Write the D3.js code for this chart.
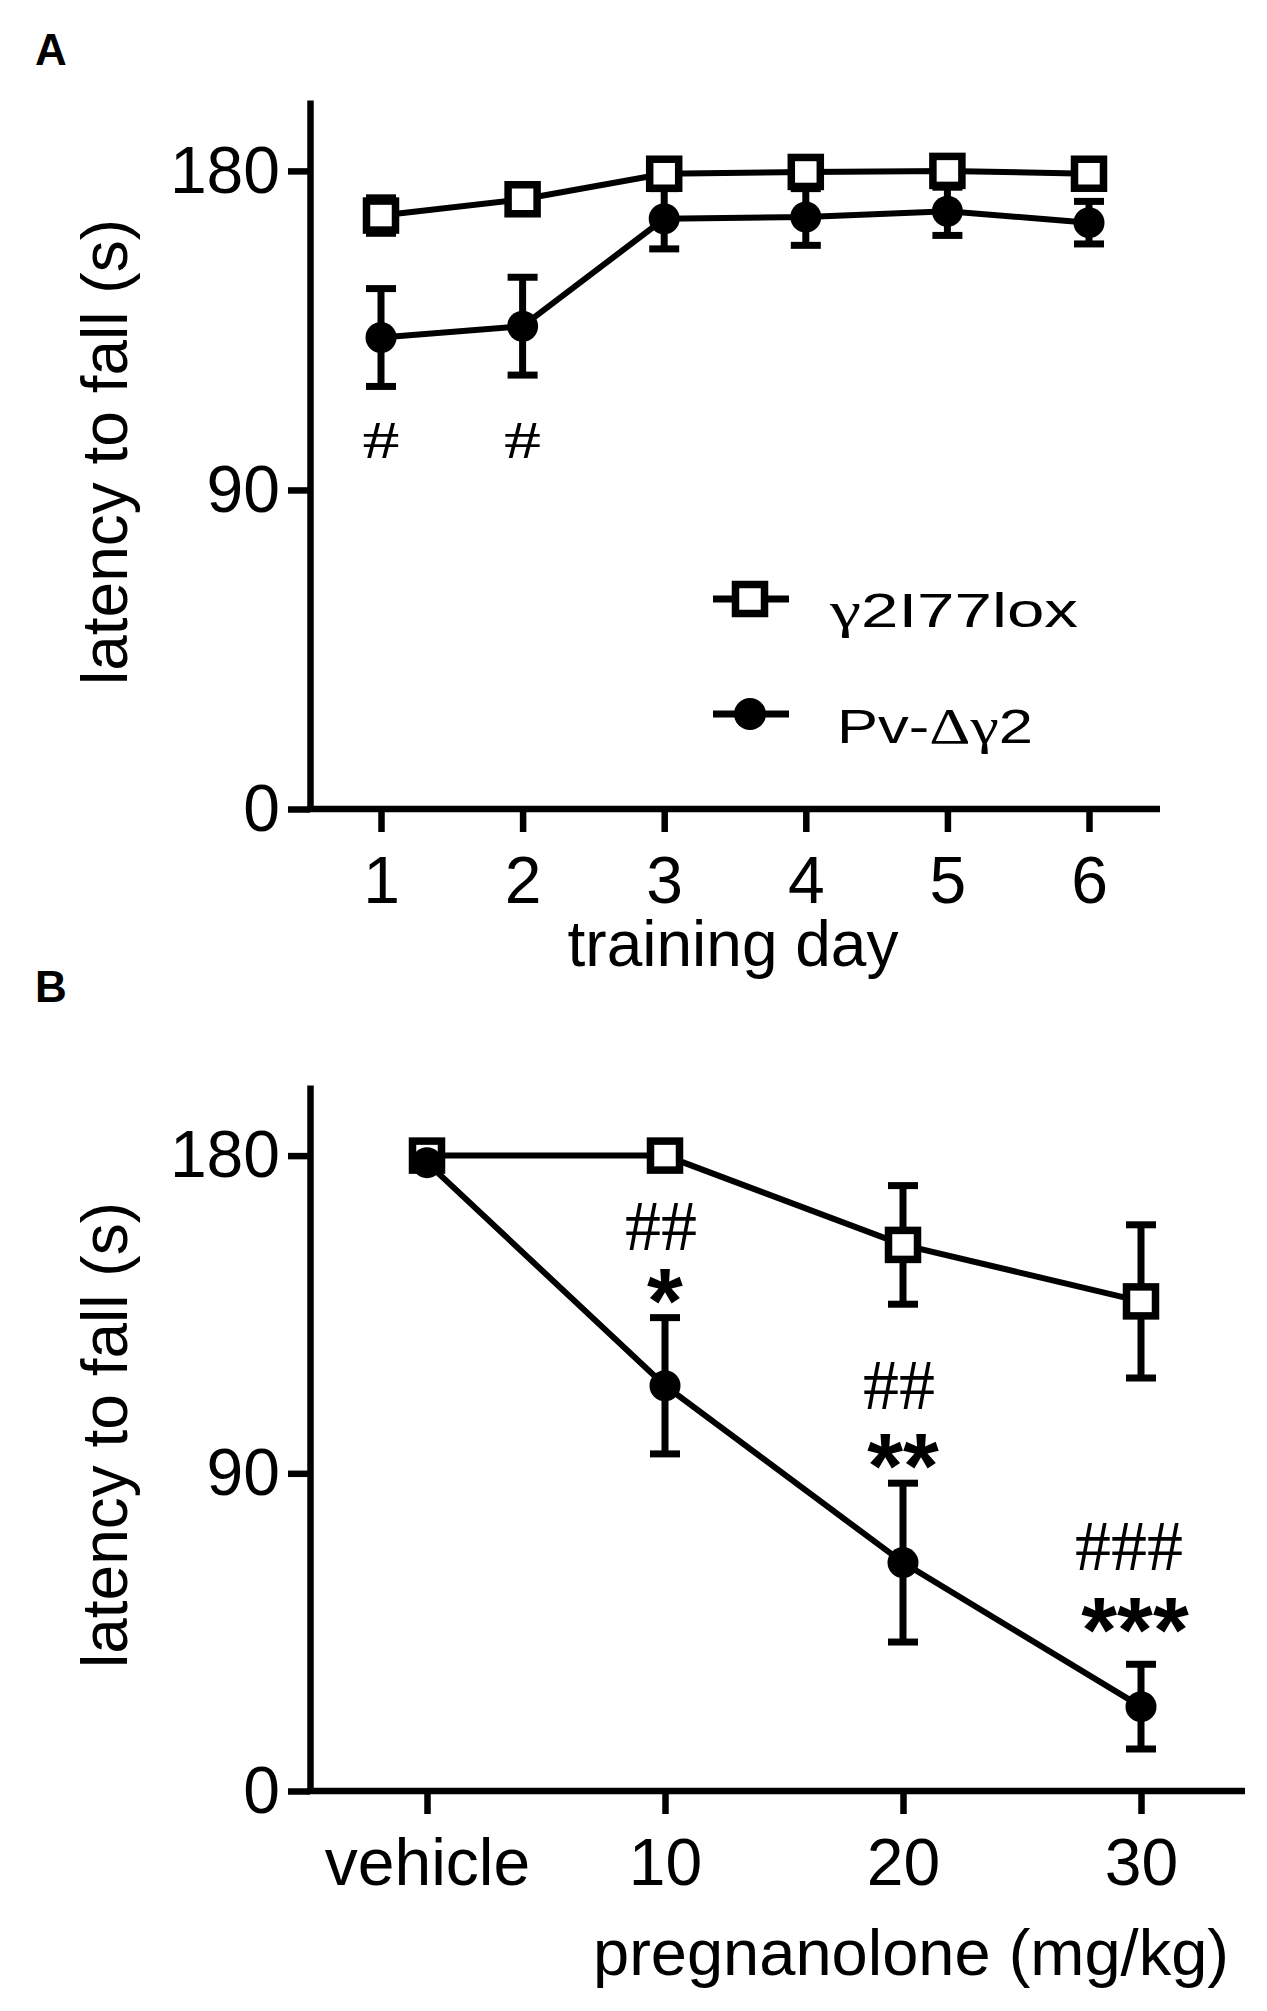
<!DOCTYPE html>
<html>
<head>
<meta charset="utf-8">
<script src="https://cdn.jsdelivr.net/npm/d3@7"></script>
<style>
  body { margin: 0; background: #fff; }
  text { font-family: "Liberation Sans", Arial, sans-serif; fill: #000; }
  .tick line, .domain { stroke: #000; stroke-width: 6.5; }
  .tick text { font-size: 66px; }
</style>
</head>
<body>
<script>
// panel A: rotarod training
const days = [1, 2, 3, 4, 5, 6];
const loxA = [167.4, 172, 179.2, 179.7, 180, 179.2];
const loxA_se = [5, 2, 1.5, 3, 3, 1.5];
const pvA = [133, 136.2, 166.5, 167, 168.6, 165.4];
const pvA_se = [13.8, 13.8, 8.5, 8, 6.8, 6];
const sigA = ["#", "#", "", "", "", ""];

// panel B: pregnanolone dose
const doses = ["vehicle", "10", "20", "30"];
const loxB = [180, 180, 154.7, 138.7];
const loxB_se = [0, 0, 16.8, 21.7];
const pvB = [178, 114.8, 64.7, 23.9];
const pvB_se = [0, 19.3, 22.5, 12];
const sigB_hash = ["", "##", "##", "###"];
const sigB_star = ["", "*", "**", "***"];

const yTicks = [0, 90, 180];
const legendNames = ["γ2I77lox", "Pv-Δγ2"];

const SERIF = "'Liberation Serif', 'Times New Roman', serif";

const svg = d3.select("body").append("svg")
    .attr("width", 1267)
    .attr("height", 2011);

function drawPanel(cfg) {
    const {x, y, xs, g} = cfg;

    // axes
    g.append("g")
        .attr("transform", "translate(310,0)")
        .call(d3.axisLeft(y).tickValues(yTicks).tickSize(22).tickSizeOuter(0).tickPadding(8));

    const xa = g.append("g")
        .attr("transform", `translate(0,${y(0)})`)
        .call(cfg.xAxis.tickSize(23).tickSizeOuter(0).tickPadding(24));
    xa.select(".domain").remove();
    xa.append("line")
        .attr("x1", 307).attr("x2", cfg.xEnd)
        .attr("stroke", "#000").attr("stroke-width", 6.5);

    // lines
    const line = d3.line().x((d, i) => x(xs[i])).y(d => y(d));
    [cfg.lox, cfg.pv].forEach(s => {
        g.append("path")
            .datum(s)
            .attr("d", line)
            .attr("fill", "none")
            .attr("stroke", "#000")
            .attr("stroke-width", 6);
    });

    // error bars
    const bars = [];
    cfg.lox.forEach((m, i) => bars.push([xs[i], m, cfg.loxSe[i]]));
    cfg.pv.forEach((m, i) => bars.push([xs[i], m, cfg.pvSe[i]]));
    const eb = g.append("g").attr("stroke", "#000").attr("stroke-width", 7);
    bars.filter(b => b[2] > 0).forEach(b => {
        const cx = x(b[0]);
        eb.append("line").attr("x1", cx).attr("x2", cx)
            .attr("y1", y(b[1] - b[2])).attr("y2", y(b[1] + b[2]));
        [b[1] - b[2], b[1] + b[2]].forEach(v => {
            eb.append("line").attr("x1", cx - 15).attr("x2", cx + 15)
                .attr("y1", y(v)).attr("y2", y(v));
        });
    });

    // markers
    g.selectAll(null)
        .data(cfg.lox)
        .enter()
        .append("rect")
        .attr("x", (d, i) => x(xs[i]) - 14.5)
        .attr("y", d => y(d) - 14.5)
        .attr("width", 29)
        .attr("height", 29)
        .attr("fill", "#fff")
        .attr("stroke", "#000")
        .attr("stroke-width", 7.5);

    g.selectAll(null)
        .data(cfg.pv)
        .enter()
        .append("circle")
        .attr("cx", (d, i) => x(xs[i]))
        .attr("cy", d => y(d))
        .attr("r", 15.5)
        .attr("fill", "#000");
}

function yLabel(g, cy) {
    g.append("text")
        .attr("transform", `translate(127,${cy}) rotate(-90)`)
        .attr("text-anchor", "middle")
        .style("font-size", "64px")
        .text("latency to fall (s)");
}

// text squeezed/stretched sideways to a given width (the original is wider than Arial)
function wideText(g, x, yb, width, anchor) {
    const w = g.append("g");
    const t = w.append("text").attr("x", 0).attr("y", 0);
    return {
        t: t,
        fit() {
            const nat = t.node().getComputedTextLength();
            const sx = width / nat;
            const x0 = anchor === "middle" ? x - width / 2 : x;
            w.attr("transform", `translate(${x0},${yb}) scale(${sx},1)`);
        }
    };
}

// ---------- panel A
const xA = d3.scaleLinear().domain([1, 6]).range([381, 1089]);
const yA = d3.scaleLinear().domain([0, 200]).range([809, 100]);
const gA = svg.append("g");

drawPanel({
    g: gA, x: xA, y: yA, xs: days,
    lox: loxA, loxSe: loxA_se, pv: pvA, pvSe: pvA_se,
    xAxis: d3.axisBottom(xA).tickValues(days).tickFormat(d3.format("d")),
    xEnd: 1160
});

sigA.forEach((s, i) => {
    if (!s) return;
    const wt = wideText(gA, xA(days[i]), yA(99), 37, "middle");
    wt.t.style("font-family", SERIF).style("font-size", "52px").text(s);
    wt.fit();
});

yLabel(gA, 452);

gA.append("text")
    .attr("x", 733).attr("y", 966)
    .attr("text-anchor", "middle")
    .style("font-size", "64px")
    .text("training day");

gA.append("text")
    .attr("x", 35).attr("y", 65)
    .style("font-size", "44px")
    .style("font-weight", "bold")
    .text("A");

// legend
const leg = gA.append("g");
[599, 714].forEach((ly, k) => {
    leg.append("line")
        .attr("x1", 713).attr("x2", 789)
        .attr("y1", ly).attr("y2", ly)
        .attr("stroke", "#000").attr("stroke-width", 7);
    if (k === 0) {
        leg.append("rect")
            .attr("x", 735.5).attr("y", ly - 14.5)
            .attr("width", 29).attr("height", 29)
            .attr("fill", "#fff").attr("stroke", "#000").attr("stroke-width", 7.5);
    } else {
        leg.append("circle")
            .attr("cx", 750).attr("cy", ly).attr("r", 16).attr("fill", "#000");
    }
});

function legendText(x, yb, name, len) {
    const wt = wideText(leg, x, yb, len, "start");
    wt.t.style("font-size", "48px");
    // greek letters set in a serif face, like the original
    name.split(/([γΔ]+)/).filter(s => s).forEach(part => {
        const ts = wt.t.append("tspan").text(part);
        if (/[γΔ]/.test(part)) ts.style("font-family", SERIF).style("font-size", "50px");
    });
    wt.fit();
}
legendText(830, 627, legendNames[0], 248);
legendText(837, 743, legendNames[1], 196);

// ---------- panel B
const xB = d3.scalePoint().domain(doses).range([427, 1141]);
const yB = d3.scaleLinear().domain([0, 200]).range([1791, 1085]);
const gB = svg.append("g");

drawPanel({
    g: gB, x: xB, y: yB, xs: doses,
    lox: loxB, loxSe: loxB_se, pv: pvB, pvSe: pvB_se,
    xAxis: d3.axisBottom(xB),
    xEnd: 1245
});

// significance marks sit above the Pv error bars
const starNudge = [0, -5, -5, -22];
const hashNudge = [0, 0, -6, -26];
doses.forEach((d, i) => {
    if (!sigB_star[i]) return;
    const top = yB(pvB[i] + pvB_se[i]);
    gB.append("text")
        .attr("x", xB(d) - (i === 3 ? 6 : 0))
        .attr("y", top + 20 + starNudge[i])
        .attr("text-anchor", "middle")
        .style("font-size", "92px")
        .style("font-weight", "bold")
        .text(sigB_star[i]);
    gB.append("text")
        .attr("x", xB(d) - (i === 3 ? 12 : 4))
        .attr("y", top - 68 + hashNudge[i])
        .attr("text-anchor", "middle")
        .style("font-family", SERIF)
        .style("font-size", "72px")
        .text(sigB_hash[i]);
});

yLabel(gB, 1435);

gB.append("text")
    .attr("x", 911).attr("y", 1975)
    .attr("text-anchor", "middle")
    .style("font-size", "65px")
    .text("pregnanolone (mg/kg)");

gB.append("text")
    .attr("x", 35).attr("y", 1002)
    .style("font-size", "44px")
    .style("font-weight", "bold")
    .text("B");
</script>
</body>
</html>
